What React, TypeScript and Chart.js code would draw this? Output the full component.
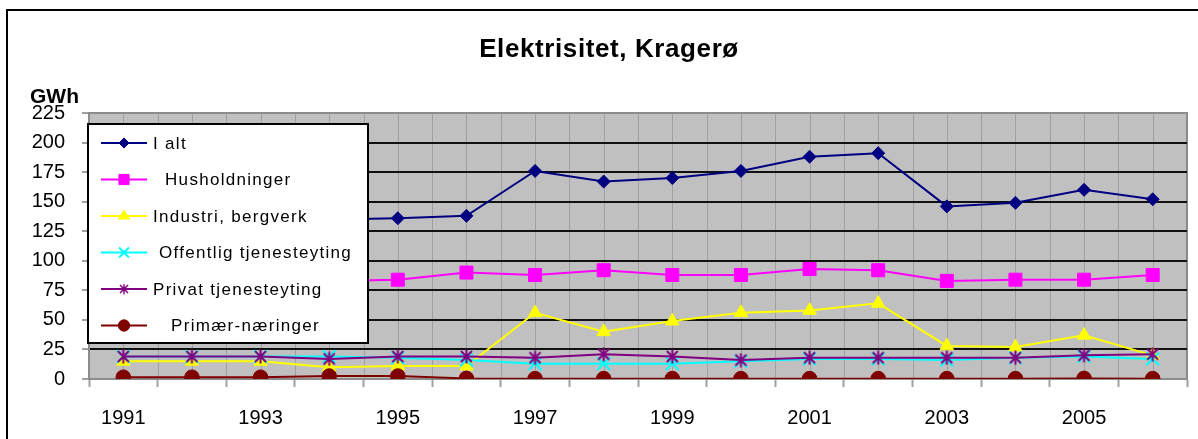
import React, { useEffect, useRef } from 'react';
import { Chart, registerables } from 'chart.js';
import { drawPoint } from 'chart.js/helpers';

Chart.register(...registerables);

const years = ['1991', '1992', '1993', '1994', '1995', '1996', '1997', '1998', '1999', '2000', '2001', '2002', '2003', '2004', '2005', '2006'];
const xTickLabels = ['1991', '1993', '1995', '1997', '1999', '2001', '2003', '2005'];
const yMax = 225;
const yStep = 25;

const chartTitle = 'Elektrisitet, Kragerø';
const yUnit = 'GWh';

const seriesNames = ['I alt', '  Husholdninger', 'Industri, bergverk', ' Offentlig tjenesteyting', 'Privat tjenesteyting', '   Primær-næringer'];

const iAlt = [128, 130, 132, 135, 136, 138, 176, 167, 170, 176, 188, 191, 146, 149, 160, 152];
const husholdninger = [80, 82, 83, 83, 84, 90, 88, 92, 88, 88, 93, 92, 83, 84, 84, 88];
const industri = [15, 15, 15, 10, 11, 11, 56, 40, 49, 56, 58, 64, 28, 27, 37, 20];
const offentlig = [19, 19, 19, 19, 18, 16, 13, 13, 13, 15, 17, 17, 16, 18, 19, 17];
const privat = [19, 19, 19, 17, 19, 19, 18, 21, 19, 16, 18, 18, 18, 18, 20, 21];
const primaer = [1.5, 1.5, 1.5, 2.5, 2.5, 0.5, 0.3, 0.3, 0.3, 0.3, 0.3, 0.3, 0.3, 0.3, 0.5, 0.3];

const FONT = '"Liberation Sans", Arial, sans-serif';

function makeStar(color: string, size: number): HTMLCanvasElement {
  const c = document.createElement('canvas');
  c.width = size;
  c.height = size;
  const g = c.getContext('2d')!;
  g.strokeStyle = color;
  g.lineWidth = 2;
  const m = 2;
  const h = size / 2;
  g.beginPath();
  g.moveTo(m, m);
  g.lineTo(size - m, size - m);
  g.moveTo(size - m, m);
  g.lineTo(m, size - m);
  g.moveTo(h, 0.5);
  g.lineTo(h, size - 0.5);
  g.stroke();
  return c;
}

export default function App() {
  const ref = useRef<HTMLCanvasElement>(null);

  useEffect(() => {
    if (!ref.current) return;
    const star = makeStar('#800080', 15);

    const styles = [
      { color: '#000080', fill: '#000080', pointStyle: 'rectRot', radius: 6.5, pbw: 1 },
      { color: '#FF00FF', fill: '#FF00FF', pointStyle: 'rect', radius: 9.2, pbw: 1 },
      { color: '#FFFF00', fill: '#FFFF00', pointStyle: 'triangle', radius: 7.8, pbw: 1 },
      { color: '#00FFFF', fill: '#00FFFF', pointStyle: 'crossRot', radius: 9, pbw: 2 },
      { color: '#800080', fill: '#800080', pointStyle: star as any, radius: 7, pbw: 1 },
      { color: '#800000', fill: '#800000', pointStyle: 'circle', radius: 7.3, pbw: 1 },
    ];
    const values = [iAlt, husholdninger, industri, offentlig, privat, primaer];

    const datasets = values.map((d, i) => ({
      label: seriesNames[i],
      data: d,
      borderColor: styles[i].color,
      backgroundColor: styles[i].fill,
      borderWidth: 2,
      pointStyle: styles[i].pointStyle,
      pointRadius: styles[i].radius,
      pointHoverRadius: styles[i].radius,
      pointBorderColor: styles[i].color,
      pointBackgroundColor: styles[i].fill,
      pointBorderWidth: styles[i].pbw,
      tension: 0,
      order: values.length - i,
    }));

    const decor = {
      id: 'decor',
      beforeDraw(chart: any) {
        const { ctx, chartArea: a, scales } = chart;
        ctx.save();
        ctx.fillStyle = '#ffffff';
        ctx.fillRect(0, 0, chart.width, chart.height);
        // outer frame
        ctx.strokeStyle = '#000';
        ctx.lineWidth = 2;
        ctx.beginPath();
        ctx.moveTo(7, chart.height);
        ctx.lineTo(7, 10);
        ctx.lineTo(chart.width, 10);
        ctx.stroke();
        // plot background
        ctx.fillStyle = '#c0c0c0';
        ctx.fillRect(a.left, a.top, a.right - a.left, a.bottom - a.top);
        // vertical lines at centers and boundaries
        const x = scales.x;
        const half = (x.getPixelForValue(1) - x.getPixelForValue(0)) / 2;
        ctx.strokeStyle = '#a0a0a0';
        ctx.lineWidth = 1;
        ctx.beginPath();
        for (let i = 0; i < years.length; i++) {
          const c = x.getPixelForValue(i);
          const px1 = Math.round(c) + 0.5;
          const px2 = Math.round(c - half) + 0.5;
          ctx.moveTo(px1, a.top);
          ctx.lineTo(px1, a.bottom);
          ctx.moveTo(px2, a.top);
          ctx.lineTo(px2, a.bottom);
        }
        ctx.stroke();
        // top and right border
        ctx.strokeStyle = '#8c8c8c';
        ctx.lineWidth = 2;
        ctx.beginPath();
        ctx.moveTo(a.left, a.top);
        ctx.lineTo(a.right, a.top);
        ctx.lineTo(a.right, a.bottom);
        ctx.stroke();
        ctx.restore();
      },
      afterDatasetsDraw(chart: any) {
        const { ctx } = chart;
        ctx.save();
        // legend box
        const bx = 88, by = 124, bw = 280, bh = 219;
        ctx.fillStyle = '#ffffff';
        ctx.fillRect(bx, by, bw, bh);
        ctx.strokeStyle = '#000';
        ctx.lineWidth = 2;
        ctx.strokeRect(bx, by, bw, bh);
        chart.data.datasets.forEach((ds: any, i: number) => {
          const y = 143 + i * 36.5;
          ctx.strokeStyle = ds.borderColor;
          ctx.lineWidth = 2;
          ctx.beginPath();
          ctx.moveTo(101, y);
          ctx.lineTo(147, y);
          ctx.stroke();
          ctx.fillStyle = ds.pointBackgroundColor;
          ctx.strokeStyle = ds.pointBorderColor;
          ctx.lineWidth = ds.pointBorderWidth;
          if (typeof ds.pointStyle === 'object') {
            ctx.drawImage(ds.pointStyle, 124 - 5.5, y - 5.5, 11, 11);
          } else {
            drawPoint(ctx, { pointStyle: ds.pointStyle, rotation: 0, radius: ds.pointRadius * 0.78, borderWidth: ds.pointBorderWidth } as any, 124, y);
          }
          ctx.fillStyle = '#000';
          ctx.font = `17px ${FONT}`;
          (ctx as any).letterSpacing = '1.3px';
          ctx.textAlign = 'left';
          ctx.textBaseline = 'middle';
          ctx.fillText(ds.label, 153, y + 1);
          (ctx as any).letterSpacing = '0px';
        });
        ctx.restore();
      },
      afterDraw(chart: any) {
        const { ctx } = chart;
        ctx.save();
        ctx.fillStyle = '#000';
        ctx.textBaseline = 'alphabetic';
        ctx.font = `bold 26px ${FONT}`;
        (ctx as any).letterSpacing = '0.6px';
        ctx.textAlign = 'center';
        ctx.fillText(chartTitle, 609, 57);
        ctx.font = `bold 21px ${FONT}`;
        (ctx as any).letterSpacing = '0px';
        ctx.textAlign = 'left';
        ctx.fillText(yUnit, 30, 103);
        ctx.restore();
      },
    };

    const chart = new Chart(ref.current, {
      type: 'line',
      data: { labels: years, datasets: datasets as any },
      options: {
        animation: false,
        responsive: false,
        devicePixelRatio: 1,
        layout: { padding: { top: 113, right: 8, left: 0, bottom: 0 } },
        plugins: {
          legend: { display: false },
          title: { display: false },
          tooltip: { enabled: false },
        },
        scales: {
          x: {
            type: 'category',
            offset: true,
            grid: {
              drawOnChartArea: false,
              drawTicks: true,
              offset: true,
              tickLength: 8,
              tickColor: '#a0a0a0',
              tickWidth: 2,
            },
            border: { display: true, color: '#8c8c8c', width: 2 },
            ticks: {
              autoSkip: false,
              maxRotation: 0,
              minRotation: 0,
              color: '#000',
              padding: 19,
              font: { family: FONT, size: 20 },
              callback: (_v: any, i: number) => (xTickLabels.includes(years[i]) ? years[i] : ''),
            },
            afterFit: (s: any) => {
              s.height = 60;
            },
          },
          y: {
            min: 0,
            max: yMax,
            ticks: {
              stepSize: yStep,
              color: '#000',
              padding: 17,
              font: { family: FONT, size: 20 },
            },
            grid: {
              color: (c: any) => (c.tick && (c.tick.value === 0 || c.tick.value === yMax) ? 'rgba(0,0,0,0)' : '#111'),
              lineWidth: 2,
              tickLength: 7,
              tickColor: '#a0a0a0',
              tickWidth: 2,
            },
            border: { display: true, color: '#8c8c8c', width: 2 },
            afterFit: (s: any) => {
              s.width = 89;
            },
          },
        },
      },
      plugins: [decor],
    });

    return () => chart.destroy();
  }, []);

  return (
    <div style={{ position: 'fixed', left: 0, top: 0, width: 1198, height: 439, background: '#fff' }}>
      <canvas ref={ref} width={1198} height={439} style={{ display: 'block' }} />
    </div>
  );
}
